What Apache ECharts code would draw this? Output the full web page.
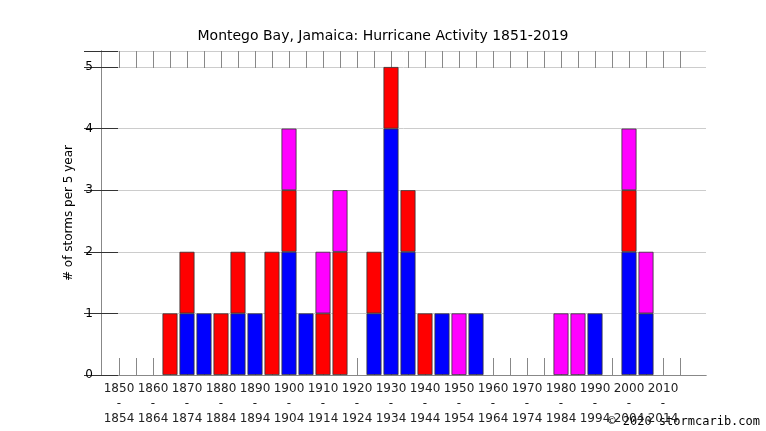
<!DOCTYPE html>
<html>
<head>
<meta charset="utf-8">
<script src="https://cdn.jsdelivr.net/npm/echarts@6/dist/echarts.min.js"></script>
<style>html,body{margin:0;background:#fff}#main{width:766px;height:431px}</style>
</head>
<body>
<div id="main"></div>
<script>
// 5-year bins starting 1850
var years = [1850,1855,1860,1865,1870,1875,1880,1885,1890,1895,1900,1905,1910,1915,1920,1925,1930,1935,1940,1945,1950,1955,1960,1965,1970,1975,1980,1985,1990,1995,2000,2005,2010,2015]
var blue    = [0,0,0,0,1,1,0,1,1,0,2,1,0,0,0,1,4,2,0,1,0,1,0,0,0,0,0,0,1,0,2,1,0,0]
var red     = [0,0,0,1,1,0,1,1,0,2,1,0,1,2,0,1,1,1,1,0,0,0,0,0,0,0,0,0,0,0,1,0,0,0]
var magenta = [0,0,0,0,0,0,0,0,0,0,1,0,1,1,0,0,0,0,0,0,1,0,0,0,0,0,1,1,0,0,1,1,0,0]

var chart = echarts.init(document.getElementById('main'))
var font = 'DejaVu Sans'
var cats = years.map(String)
function clean(arr){ return arr.map(function(v){ return v === 0 ? '-' : v }) }
function mk(name, arr, color){
  return {name:name, type:'bar', stack:'s', barWidth:15, xAxisIndex:2, yAxisIndex:2, data:clean(arr),
    itemStyle:{color:color, borderColor:'#333', borderWidth:0.8}}
}
var yTick = {show:true, inside:true, length:17, lineStyle:{color:'#333'}}
var catTick = {show:true, inside:true, length:17, alignWithLabel:true, interval:0, lineStyle:{color:'#888'}}
chart.setOption({
  animation:false,
  title:{text:'Montego Bay, Jamaica: Hurricane Activity 1851-2019', left:'center', top:24,
    textStyle:{fontFamily:font, fontSize:14, fontWeight:'normal', color:'#000'}},
  grid:[{left:101, right:60, top:51, bottom:56}, {left:110.5, right:77.5, top:51, bottom:56}],
  xAxis:[
    {type:'value', gridIndex:0, min:0, max:1, position:'bottom', axisLine:{lineStyle:{color:'#888'}},
     axisTick:{show:false}, axisLabel:{show:false}, splitLine:{show:false}},
    {type:'value', gridIndex:0, min:0, max:1, position:'top', axisLine:{show:true, lineStyle:{color:'#888'}},
     axisTick:{show:false}, axisLabel:{show:false}, splitLine:{show:false}},
    {type:'category', gridIndex:1, data:cats, position:'bottom', axisLine:{show:false}, axisTick:catTick,
     axisLabel:{interval:1, fontFamily:font, fontSize:12, color:'#222', lineHeight:15, margin:6,
       formatter:function(v){ v = +v; return v + '\n-\n' + (v+4) }}},
    {type:'category', gridIndex:1, data:cats, position:'top', axisLine:{show:false}, axisTick:catTick,
     axisLabel:{show:false}}
  ],
  yAxis:[
    {type:'value', gridIndex:0, min:0, max:5.26, interval:1, position:'left',
     name:'# of storms per 5 year', nameLocation:'middle', nameGap:24,
     nameTextStyle:{fontFamily:font, fontSize:12, color:'#000'},
     axisLine:{show:true, lineStyle:{color:'#888'}}, axisTick:yTick,
     splitLine:{show:true, lineStyle:{color:'#ccc'}},
     axisLabel:{fontFamily:font, fontSize:12, color:'#000', margin:8,
       formatter:function(v){ return Number.isInteger(v) ? v : '' }}},
    {type:'value', gridIndex:0, min:0, max:5.26, interval:1, position:'right',
     axisLine:{show:true, lineStyle:{color:'#888'}}, axisTick:yTick,
     splitLine:{show:false}, axisLabel:{show:false}},
    {type:'value', gridIndex:1, min:0, max:5.26, show:false}
  ],
  series:[mk('blue', blue, '#0000ff'), mk('red', red, '#ff0000'), mk('magenta', magenta, '#ff00ff')],
  graphic:[{type:'text', right:6, bottom:3,
    style:{text:'© 2020 stormcarib.com', fontFamily:'DejaVu Sans Mono', fontSize:12, fill:'#000'}}]
})
</script>
</body>
</html>
